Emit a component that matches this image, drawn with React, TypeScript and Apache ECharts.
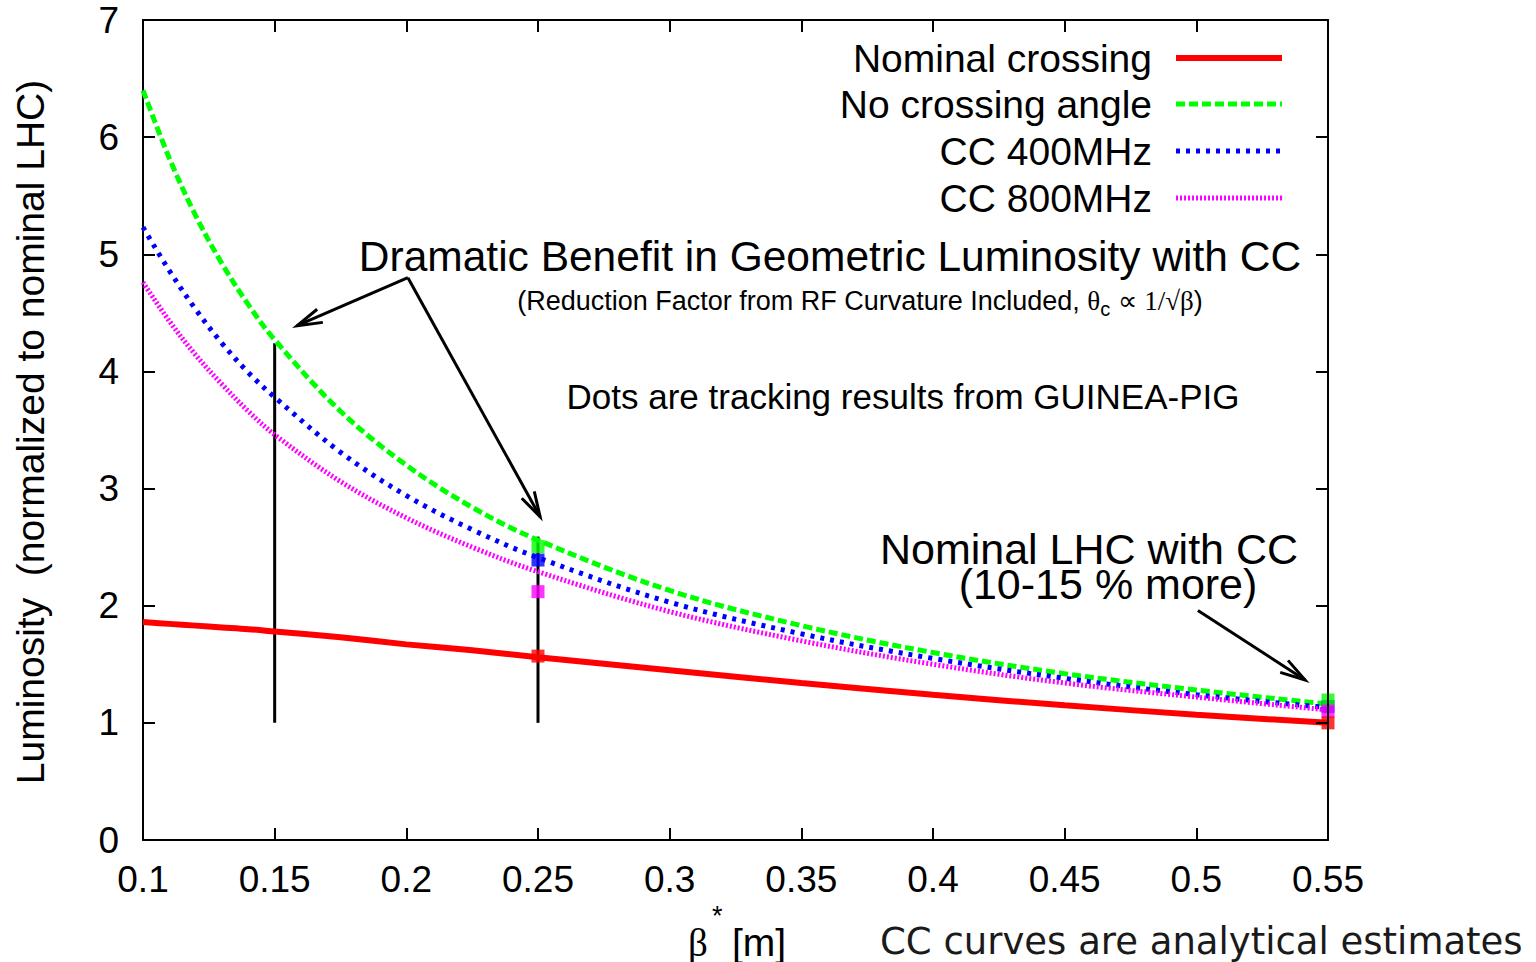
import React, { useEffect, useRef } from "react";
import * as echarts from "echarts";

// beta* sample points [m]
const betaGrid = [0.1, 0.11, 0.12, 0.13, 0.14, 0.15, 0.175, 0.2, 0.225, 0.25, 0.3, 0.35, 0.4, 0.45, 0.5, 0.55];
const nominalCrossing = [1.86, 1.845, 1.83, 1.815, 1.8, 1.78, 1.73, 1.67, 1.62, 1.56, 1.45, 1.34, 1.24, 1.15, 1.07, 1.0];
const noCrossingAngle = [6.4, 5.82, 5.33, 4.92, 4.57, 4.27, 3.66, 3.2, 2.84, 2.56, 2.13, 1.83, 1.6, 1.42, 1.28, 1.16];
const cc400 = [5.23, 4.86, 4.53, 4.24, 3.99, 3.78, 3.31, 2.94, 2.65, 2.41, 2.03, 1.76, 1.55, 1.38, 1.24, 1.13];
const cc800 = [4.76, 4.43, 4.14, 3.89, 3.66, 3.46, 3.06, 2.75, 2.5, 2.29, 1.95, 1.7, 1.5, 1.34, 1.22, 1.11];

// tracking results (GUINEA-PIG)
const dotBeta = [0.25, 0.55];
const dotNominal = [1.57, 1.0];
const dotNoCrossing = [2.505, 1.195];
const dotCC400 = [2.39, 1.14];
const dotCC800 = [2.12, 1.1];

// vertical reference lines
const vlineBeta = [0.15, 0.25];
const vlineBottom = [1, 1];
const vlineTop = [4.24, 2.59];

const seriesNames = ["Nominal crossing", "No crossing angle", "CC 400MHz", "CC 800MHz"];
const seriesColors = ["#ff0000", "#00ff00", "#0000ff", "#ff00ff"];

// axis settings
const xMin = 0.1, xMax = 0.55, xStep = 0.05;
const yMin = 0, yMax = 7, yStep = 1;

// arrows (data coordinates): [from, to]
const arrows: number[][][] = [
  [[0.2006, 4.8], [0.1585, 4.39]],
  [[0.2006, 4.8], [0.2508, 2.76]],
  [[0.5006, 1.96], [0.5413, 1.366]],
];

const SANS = "'Liberation Sans', Arial, Helvetica, sans-serif";
const SERIF = "'Liberation Serif', 'DejaVu Serif', serif";

const pair = (xs: number[], ys: number[]) => xs.map((x, i) => [x, ys[i]]);

export default function App() {
  const ref = useRef<HTMLDivElement>(null);
  useEffect(() => {
    document.body.style.margin = "0";
    const chart = echarts.init(ref.current!, null, { renderer: "svg" });

    const axisCommon = {
      axisLine: { show: true, onZero: false, lineStyle: { color: "#000", width: 2 } },
      axisTick: { show: true, inside: true, length: 12, lineStyle: { color: "#000", width: 2 } },
      splitLine: { show: false },
    };

    const curveStyles: any[] = [
      { width: 6, type: "solid" },
      { width: 5, type: [9, 4] },
      { width: 5, type: [4, 6] },
      { width: 5, type: [2, 2] },
    ];
    const curveData = [nominalCrossing, noCrossingAngle, cc400, cc800];
    const dotData = [dotNominal, dotNoCrossing, dotCC400, dotCC800];
    const dotOrder = [2, 1, 3, 0];

    const series: any[] = [];
    vlineBeta.forEach((b, i) => {
      series.push({
        type: "line",
        data: [[b, vlineBottom[i]], [b, vlineTop[i]]],
        showSymbol: false,
        symbol: "none",
        lineStyle: { color: "#000", width: 3 },
        z: 1,
      });
    });
    curveData.forEach((d, i) => {
      series.push({
        name: seriesNames[i],
        type: "line",
        data: pair(betaGrid, d),
        smooth: 0.35,
        symbol: "none",
        lineStyle: { color: seriesColors[i], width: curveStyles[i].width, type: curveStyles[i].type, cap: "butt" },
        z: 2,
      });
    });
    dotOrder.forEach((i) => {
      series.push({
        type: "scatter",
        data: pair(dotBeta, dotData[i]),
        symbol: "rect",
        symbolSize: 13,
        itemStyle: { color: seriesColors[i] },
        clip: false,
        z: 3,
      });
    });

    chart.setOption({
      animation: false,
      backgroundColor: "#fff",
      grid: { left: 143, right: 208, top: 20, bottom: 122, containLabel: false },
      xAxis: [
        {
          type: "value", min: xMin, max: xMax, interval: xStep, position: "bottom",
          ...axisCommon,
          axisLabel: {
            show: true, margin: 21, color: "#000", fontSize: 37, fontFamily: SANS,
            formatter: (v: number) => String(Math.round(v * 100) / 100),
          },
        },
        {
          type: "value", min: xMin, max: xMax, interval: xStep, position: "top",
          ...axisCommon, axisLabel: { show: false }, z: 5,
        },
      ],
      yAxis: [
        {
          type: "value", min: yMin, max: yMax, interval: yStep, position: "left",
          ...axisCommon,
          axisLabel: { show: true, margin: 24, color: "#000", fontSize: 37, fontFamily: SANS },
        },
        {
          type: "value", min: yMin, max: yMax, interval: yStep, position: "right",
          ...axisCommon, axisLabel: { show: false }, z: 5,
        },
      ],
      series,
    });

    const g: any[] = [];
    const txt = (x: number, y: number, text: string, fontSize: number, align = "center", extra: any = {}) => ({
      type: "text", x, y, z: 20,
      style: { text, fontSize, fontFamily: SANS, fill: "#000", align, verticalAlign: "middle", ...extra },
    });

    // legend
    const legendY = [58, 104, 151, 198];
    seriesNames.forEach((n, i) => {
      g.push(txt(1152, legendY[i], n, 39, "right"));
      g.push({
        type: "line", z: 20,
        shape: { x1: 1176, y1: legendY[i], x2: 1282, y2: legendY[i] },
        style: {
          stroke: seriesColors[i], lineWidth: curveStyles[i].width,
          lineDash: curveStyles[i].type === "solid" ? null : curveStyles[i].type,
          lineCap: "butt",
        },
      });
    });

    // annotations
    g.push(txt(830, 256, "Dramatic Benefit in Geometric Luminosity with CC", 42.5));
    g.push({
      type: "text", x: 860, y: 301, z: 20,
      style: {
        text: "{a|(Reduction Factor from RF Curvature Included, }{g|θ}{s|c}{a| ∝ }{g|1/√β}{a|)}",
        align: "center", verticalAlign: "middle", fill: "#000",
        rich: {
          a: { fontSize: 27, fontFamily: SANS, fill: "#000" },
          g: { fontSize: 27, fontFamily: SERIF, fill: "#000" },
          s: { fontSize: 20, fontFamily: SANS, fill: "#000", padding: [15, 0, 0, 0] },
        },
      },
    });
    g.push(txt(903, 396, "Dots are tracking results from GUINEA-PIG", 35));
    g.push({
      type: "text", x: 1089, y: 566, z: 20,
      style: {
        text: "{a|Nominal LHC with CC}\n{b|(10-15 % more)}",
        align: "center", verticalAlign: "middle", fill: "#000",
        rich: {
          a: { fontSize: 43, fontFamily: SANS, fill: "#000", lineHeight: 35 },
          b: { fontSize: 43, fontFamily: SANS, fill: "#000", lineHeight: 35, padding: [0, 0, 0, 38] },
        },
      },
    });

    // y axis name
    g.push({
      type: "text", x: 30, y: 432, rotation: Math.PI / 2, z: 20,
      style: {
        text: "Luminosity  (normalized to nominal LHC)", fontSize: 39, fontFamily: SANS,
        fill: "#000", align: "center", verticalAlign: "middle",
      },
    });
    // x axis name
    g.push(txt(688, 942, "β", 39, "left", { fontFamily: SERIF }));
    g.push(txt(712, 916, "*", 27, "left"));
    g.push(txt(732, 942, "[m]", 39, "left"));
    g.push({
      type: "text", x: 880, y: 941, z: 20,
      style: {
        text: "CC curves are analytical estimates", fontSize: 37,
        fontFamily: "'DejaVu Sans', sans-serif", fill: "#1a1a1a", align: "left", verticalAlign: "middle",
      },
    });

    // arrows
    const headLen = 26;
    const headAng = (16 * Math.PI) / 180;
    arrows.forEach(([from, to]) => {
      const p1 = chart.convertToPixel({ xAxisIndex: 0, yAxisIndex: 0 }, from) as number[];
      const p2 = chart.convertToPixel({ xAxisIndex: 0, yAxisIndex: 0 }, to) as number[];
      const ang = Math.atan2(p2[1] - p1[1], p2[0] - p1[0]);
      const h1 = [p2[0] - headLen * Math.cos(ang - headAng), p2[1] - headLen * Math.sin(ang - headAng)];
      const h2 = [p2[0] - headLen * Math.cos(ang + headAng), p2[1] - headLen * Math.sin(ang + headAng)];
      g.push({
        type: "line", z: 20,
        shape: { x1: p1[0], y1: p1[1], x2: p2[0], y2: p2[1] },
        style: { stroke: "#000", lineWidth: 3 },
      });
      g.push({
        type: "polyline", z: 20,
        shape: { points: [h1, p2, h2] },
        style: { stroke: "#000", lineWidth: 3, fill: null, lineJoin: "miter" },
      });
    });

    chart.setOption({ graphic: g });
    return () => chart.dispose();
  }, []);
  return <div ref={ref} style={{ width: 1536, height: 962 }} />;
}
